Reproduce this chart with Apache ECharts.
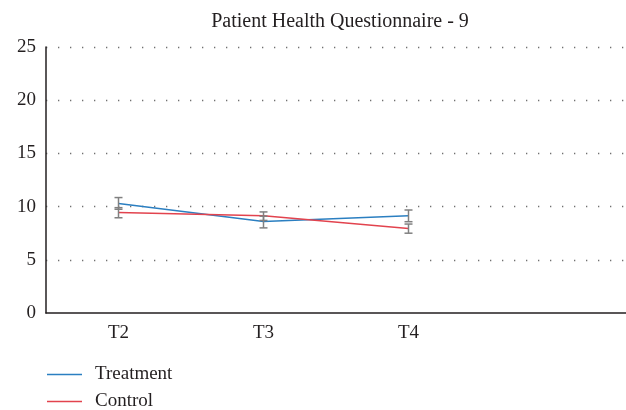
<!DOCTYPE html>
<html>
<head>
<meta charset="utf-8">
<script src="https://cdn.jsdelivr.net/npm/echarts@6/dist/echarts.min.js"></script>
<style>
  html, body { margin: 0; padding: 0; background: #fff; }
  #chart { width: 626px; height: 410px; }
</style>
</head>
<body>
<div id="chart"></div>
<script>
// time points (4th slot is left empty in the original)
const timePoints = ['T2', 'T3', 'T4', '']
const yTicks = [0, 5, 10, 15, 20, 25]

const treatment = [10.3, 8.6, 9.15]
const treatmentLow = [9.75, 8.0, 8.58]
const treatmentHigh = [10.85, 9.1, 9.68]

const control = [9.45, 9.15, 7.95]
const controlLow = [8.95, 8.7, 7.5]
const controlHigh = [9.9, 9.5, 8.36]

const serif = '"Liberation Serif", "DejaVu Serif", serif'
const blue = '#2b7fc1'
const red = '#e2434e'

const errorData = (low, high) => low.map((v, i) => [i, v, high[i]])

const errorBars = (name, low, high) => ({
  name: name + ' error',
  type: 'custom',
  silent: true,
  z: 5,
  data: errorData(low, high),
  renderItem: function (params, api) {
    const x = api.value(0)
    const lo = api.coord([x, api.value(1)])
    const hi = api.coord([x, api.value(2)])
    const w = 4
    const style = { stroke: '#808080', lineWidth: 1.5 }
    return {
      type: 'group',
      children: [
        { type: 'line', shape: { x1: lo[0], y1: lo[1], x2: hi[0], y2: hi[1] }, style },
        { type: 'line', shape: { x1: lo[0] - w, y1: lo[1], x2: lo[0] + w, y2: lo[1] }, style },
        { type: 'line', shape: { x1: hi[0] - w, y1: hi[1], x2: hi[0] + w, y2: hi[1] }, style },
      ],
    }
  },
})

// one legend per row so they stack like the original
const legendRow = (name, top) => ({
  left: 47,
  top: top,
  padding: 0,
  icon: 'rect',
  itemWidth: 35,
  itemHeight: 1.5,
  data: [name],
  textStyle: {
    fontFamily: serif,
    fontSize: 19,
    color: '#231f20',
    padding: [0, 0, 0, 8],
  },
})

const options = {
  animation: false,
  title: {
    text: 'Patient Health Questionnaire - 9',
    left: 335,
    textAlign: 'center',
    top: 7,
    textStyle: {
      fontFamily: serif,
      fontWeight: 'normal',
      fontSize: 20,
      color: '#231f20',
    },
  },
  grid: {
    left: 46,
    right: 0,
    top: 47,
    bottom: 97,
  },
  xAxis: {
    type: 'category',
    data: timePoints,
    axisTick: { show: false },
    axisLine: { lineStyle: { color: '#231f20', width: 1.5 } },
    axisLabel: {
      interval: 0,
      margin: 11,
      fontFamily: serif,
      fontSize: 19,
      color: '#231f20',
    },
  },
  yAxis: {
    type: 'value',
    min: yTicks[0],
    max: yTicks[yTicks.length - 1],
    interval: 5,
    axisTick: { show: false },
    axisLine: { show: true, lineStyle: { color: '#231f20', width: 1.5 } },
    axisLabel: {
      margin: 10,
      fontFamily: serif,
      fontSize: 19,
      color: '#231f20',
    },
    splitLine: {
      showMinLine: false,
      lineStyle: { color: '#707070', width: 1.3, type: [1.3, 10.7] },
    },
  },
  legend: [legendRow('Treatment', 365), legendRow('Control', 392)],
  series: [
    {
      name: 'Treatment',
      type: 'line',
      data: treatment,
      symbol: 'none',
      z: 3,
      lineStyle: { color: blue, width: 1.5 },
      itemStyle: { color: blue },
    },
    {
      name: 'Control',
      type: 'line',
      data: control,
      symbol: 'none',
      z: 4,
      lineStyle: { color: red, width: 1.5 },
      itemStyle: { color: red },
    },
    errorBars('Treatment', treatmentLow, treatmentHigh),
    errorBars('Control', controlLow, controlHigh),
  ],
}

const chart = echarts.init(document.getElementById('chart'))
chart.setOption(options)
window.addEventListener('resize', function () {
  chart && chart.resize()
})
</script>
</body>
</html>
